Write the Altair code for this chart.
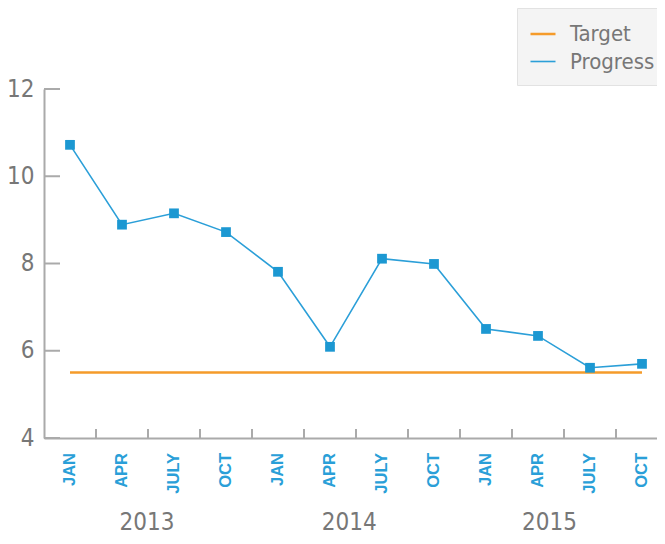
import altair as alt
import pandas as pd

# ---- data ----
months = ["JAN", "APR", "JULY", "OCT", "JAN", "APR", "JULY", "OCT", "JAN", "APR", "JULY", "OCT"]
progress = [10.72, 8.89, 9.15, 8.72, 7.81, 6.09, 8.11, 7.99, 6.50, 6.34, 5.61, 5.70]
target = [5.5] * 12
years = ["2013", "2014", "2015"]
year_center = [1.48, 5.37, 9.22]  # position of year label along the month index
y_ticks = [4, 6, 8, 10, 12]
series = ["Target", "Progress"]
colors = ["#f59b2a", "#2b9fd8"]

W, H = 613, 349
STEP = 52
FONT = "Liberation Sans Narrow, DejaVu Sans Condensed, sans-serif"
GRAY = "#777777"
AXIS_GRAY = "#aaaaaa"

idx = list(range(len(months)))
long_df = pd.DataFrame({
    "idx": idx + idx,
    "value": target + progress,
    "series": ["Target"] * len(idx) + ["Progress"] * len(idx),
})
prog_df = pd.DataFrame({"idx": idx, "value": progress})
month_df = pd.DataFrame({"idx": idx, "month": months})
year_df = pd.DataFrame({"idx": year_center, "year": years})
ytick_df = pd.DataFrame({"value": y_ticks})
xtick_df = pd.DataFrame({"idx": [i + 0.5 for i in idx[:-1]]})

xscale = alt.Scale(domain=[-0.5, -0.5 + W / STEP], nice=False, zero=False)
yscale = alt.Scale(domain=[4, 12], nice=False, zero=False)

xaxis = alt.Axis(labels=False, ticks=False, grid=False, title=None,
                 domainColor=AXIS_GRAY, domainWidth=2)
yaxis = alt.Axis(values=y_ticks, ticks=False, tickSize=0, grid=False, title=None,
                 labelFont=FONT, labelFontSize=24, labelColor=GRAY,
                 labelPadding=10, domainColor=AXIS_GRAY, domainWidth=2)

X = alt.X("idx:Q", scale=xscale, axis=xaxis)
Y = alt.Y("value:Q", scale=yscale, axis=yaxis)

lines = alt.Chart(long_df).mark_line().encode(
    x=X, y=Y,
    color=alt.Color("series:N",
                    scale=alt.Scale(domain=series, range=colors),
                    legend=alt.Legend(
                        title=None, orient="none", legendX=473, legendY=-81,
                        fillColor="#f4f4f4", strokeColor="#e2e2e2",
                        padding=12, symbolType="stroke", symbolSize=625,
                        symbolStrokeWidth=2.5, labelFont=FONT, labelFontSize=22,
                        labelColor=GRAY, labelOffset=13, rowPadding=3)),
    strokeWidth=alt.StrokeWidth("series:N",
                                scale=alt.Scale(domain=series, range=[2.5, 1.6]),
                                legend=None),
)

points = alt.Chart(prog_df).mark_square(size=95, color="#1c98d2", opacity=1).encode(
    x=X, y=Y,
)

yticks = alt.Chart(ytick_df).mark_rule(color=AXIS_GRAY, strokeWidth=2).encode(
    y=Y, x=alt.value(0), x2=alt.value(16),
)

xticks = alt.Chart(xtick_df).mark_rule(color=AXIS_GRAY, strokeWidth=2).encode(
    x=X, y=alt.value(H - 9), y2=alt.value(H),
)

month_text = alt.Chart(month_df).mark_text(
    angle=270, align="right", baseline="middle",
    font="Liberation Sans, Arial, sans-serif", fontWeight="bold",
    fontSize=16.5, color="#2a9fd8",
).encode(
    x=X, y=alt.value(H + 15), text="month:N",
)

year_text = alt.Chart(year_df).mark_text(
    align="center", baseline="alphabetic", font=FONT, fontSize=24, color=GRAY,
).encode(
    x=X, y=alt.value(441), text="year:N",
)

chart = alt.layer(lines, yticks, xticks, points, month_text, year_text).properties(
    width=W, height=H,
    autosize=alt.AutoSizeParams(type="none"),
    padding={"left": 36, "top": 81, "right": 0, "bottom": 98},
    background="white",
).configure_view(stroke=None)

chart.save("out.html", embed_options={"renderer": "svg", "actions": False})
